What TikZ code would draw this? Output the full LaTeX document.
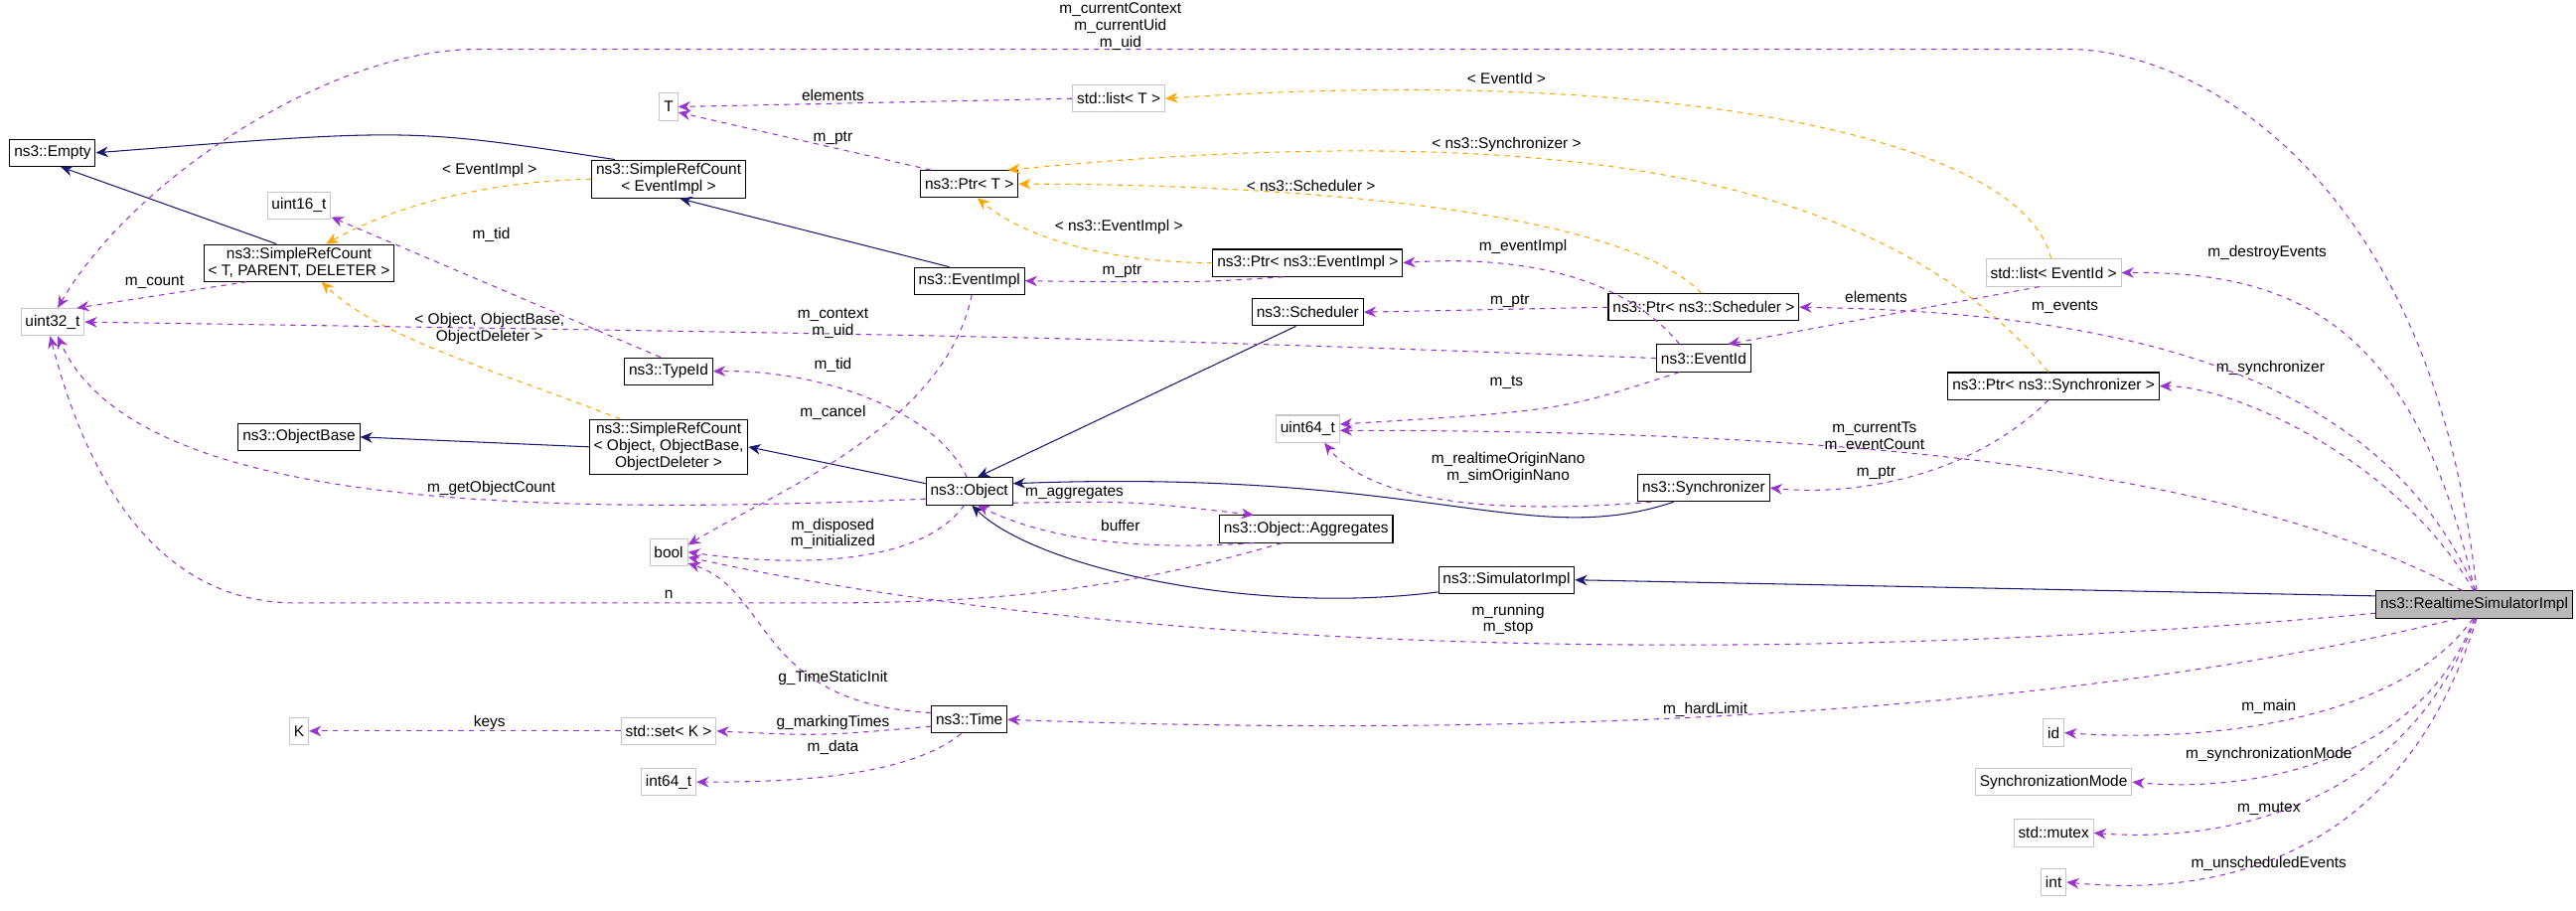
\documentclass[tikz,border=0pt]{standalone}
\usepackage{fontspec}
\setmainfont{Liberation Sans}
\usetikzlibrary{arrows.meta,positioning}

\definecolor{inhblue}{RGB}{25,25,112}
\definecolor{usepurple}{RGB}{154,50,205}
\definecolor{tplorange}{RGB}{255,165,0}

\tikzset{
  cls/.style={draw=black, semithick, rectangle, inner xsep=2.5pt, inner ysep=2pt, minimum height=15.5pt, font=\fontsize{8.8}{9.6}\selectfont, align=center, fill=white},
  ext/.style={cls, draw=gray!45},
  main/.style={cls, fill=gray!55},
  lbl/.style={font=\fontsize{8.8}{9.6}\selectfont, align=center, inner sep=0pt},
  inh/.style={draw=inhblue, semithick, -{Stealth[length=7pt,width=6pt]}},
  use/.style={draw=usepurple, semithick, dashed, -{Stealth[length=7pt,width=6pt]}},
  tpl/.style={draw=tplorange, semithick, dashed, -{Stealth[length=7pt,width=6pt]}},
}

\begin{document}
\begin{tikzpicture}[x=0.0331cm, y=-0.0331cm]
  \useasboundingbox (0,0) rectangle (1568,554);

  % Nodes
  \node[cls] (empty) at (32,93) {ns3::Empty};
  \node[ext] (tt) at (407,65) {T};
  \node[ext] (listT) at (681,60) {std::list\textless{} T \textgreater{}};
  \node[ext] (u16) at (182,125) {uint16\_t};
  \node[cls] (srcE) at (407,109) {ns3::SimpleRefCount\\\textless{} EventImpl \textgreater{}};
  \node[cls] (srcT) at (182,160) {ns3::SimpleRefCount\\\textless{} T, PARENT, DELETER \textgreater{}};
  \node[ext] (u32) at (32,196) {uint32\_t};
  \node[cls] (ptrT) at (590,112) {ns3::Ptr\textless{} T \textgreater{}};
  \node[cls] (evimpl) at (590,171) {ns3::EventImpl};
  \node[cls] (ptrE) at (796,160) {ns3::Ptr\textless{} ns3::EventImpl \textgreater{}};
  \node[cls] (typeid) at (407,226) {ns3::TypeId};
  \node[cls] (objbase) at (182,266) {ns3::ObjectBase};
  \node[cls] (srcO) at (407,272) {ns3::SimpleRefCount\\\textless{} Object, ObjectBase,\\ObjectDeleter \textgreater{}};
  \node[cls] (obj) at (590,299) {ns3::Object};
  \node[ext] (bool) at (407,336) {bool};
  \node[cls] (time) at (590,438) {ns3::Time};
  \node[ext] (kk) at (182,445) {K};
  \node[ext] (setK) at (407,445) {std::set\textless{} K \textgreater{}};
  \node[ext] (i64) at (407,476) {int64\_t};
  \node[cls] (sched) at (796,190) {ns3::Scheduler};
  \node[cls] (ptrS) at (1037,187) {ns3::Ptr\textless{} ns3::Scheduler \textgreater{}};
  \node[cls] (evid) at (1037,218) {ns3::EventId};
  \node[ext] (listE) at (1250,166) {std::list\textless{} EventId \textgreater{}};
  \node[cls] (ptrSync) at (1250,235) {ns3::Ptr\textless{} ns3::Synchronizer \textgreater{}};
  \node[ext] (u64) at (796,261) {uint64\_t};
  \node[cls] (sync) at (1037,297) {ns3::Synchronizer};
  \node[cls] (agg) at (795,322) {ns3::Object::Aggregates};
  \node[cls] (simimpl) at (917,353) {ns3::SimulatorImpl};
  \node[main] (rsi) at (1506,368) {ns3::RealtimeSimulatorImpl};
  \node[ext] (idn) at (1250,446) {id};
  \node[ext] (smode) at (1250,476) {SynchronizationMode};
  \node[ext] (mtx) at (1250,507) {std::mutex};
  \node[ext] (intn) at (1250,537) {int};

  % Inheritance
  \draw[inh] (srcE.160) .. controls (250,78) .. (empty.east);
  \draw[inh] (srcT.140) -- (empty.-60);
  \draw[inh] (evimpl.145) -- (srcE.-60);
  \draw[inh] (srcO.west) -- (objbase.east);
  \draw[inh] (obj.170) -- (srcO.east);
  \draw[inh] (sched.-130) -- (obj.60);
  \draw[inh] (sync.-155) .. controls (930,335) and (870,285) .. (obj.10);
  \draw[inh] (simimpl.-170) .. controls (760,375) and (630,345) .. (obj.-80);
  \draw[inh] (rsi.175) -- (simimpl.east);

  % Templates
  \draw[tpl] (srcE.west) .. controls (310,110) and (250,120) .. (srcT.35);
  \draw[tpl] (srcO.150) .. controls (300,225) and (230,205) .. (srcT.-40);
  \draw[tpl] (ptrE.west) .. controls (690,160) and (630,150) .. (ptrT.-60);
  \draw[tpl] (ptrS.100) .. controls (990,130) and (800,112) .. (ptrT.east);
  \draw[tpl] (ptrSync.110) .. controls (1150,110) and (960,70) .. (ptrT.20);
  \draw[tpl] (listE.100) .. controls (1230,80) and (1000,40) .. (listT.east);

  % Members
  \draw[use] (rsi.80) .. controls (1480,100) and (1330,30) .. (1260,30) -- (290,30) .. controls (200,30) and (80,110) .. (u32.70);
  \draw[use] (listT.west) -- (tt.east);
  \draw[use] (ptrT.160) -- (tt.-30);
  \draw[use] (srcT.-160) -- (u32.30);
  \draw[use] (typeid.120) -- (u16.-20);
  \draw[use] (evid.180) .. controls (650,205) .. (u32.east);
  \draw[use] (obj.100) .. controls (570,250) and (500,225) .. (typeid.east);
  \draw[use] (evimpl.-80) .. controls (575,260) and (470,300) .. (bool.20);
  \draw[use] (obj.190) .. controls (300,315) and (80,305) .. (u32.-70);
  \draw[use] (obj.-110) .. controls (560,345) and (480,345) .. (bool.east);
  \draw[use] (agg.-150) .. controls (680,360) and (600,367) .. (500,367) -- (180,367) .. controls (80,367) and (45,260) .. (u32.-100);
  \draw[use] (obj.-15) .. controls (690,305) .. (agg.165);
  \draw[use] (agg.195) .. controls (700,335) and (640,330) .. (obj.-60);
  \draw[use] (ptrE.-150) .. controls (730,172) .. (evimpl.east);
  \draw[use] (evid.150) .. controls (990,170) and (930,155) .. (ptrE.east);
  \draw[use] (ptrS.west) -- (sched.east);
  \draw[use] (evid.-150) .. controls (950,250) .. (u64.8);
  \draw[use] (listE.-135) -- (evid.30);
  \draw[use] (ptrSync.-110) .. controls (1200,290) and (1130,302) .. (sync.east);
  \draw[use] (sync.-165) .. controls (890,315) and (830,300) .. (u64.-40);
  \draw[use] (rsi.130) .. controls (1350,280) and (1100,262) .. (u64.-3);
  \draw[use] (rsi.88) .. controls (1470,200) and (1400,165) .. (listE.east);
  \draw[use] (rsi.84) .. controls (1450,230) and (1300,190) .. (ptrS.east);
  \draw[use] (rsi.92) .. controls (1460,280) and (1360,235) .. (ptrSync.east);
  \draw[use] (rsi.185) .. controls (1100,405) and (700,400) .. (bool.-15);
  \draw[use] (rsi.-140) .. controls (1300,425) and (1000,452) .. (time.east);
  \draw[use] (time.170) .. controls (460,428) and (470,360) .. (bool.-30);
  \draw[use] (time.-170) .. controls (500,448) .. (setK.east);
  \draw[use] (time.-120) .. controls (550,475) and (470,476) .. (i64.east);
  \draw[use] (setK.west) -- (kk.east);
  \draw[use] (rsi.-95) .. controls (1460,440) and (1340,452) .. (idn.east);
  \draw[use] (rsi.-90) .. controls (1470,470) and (1360,482) .. (smode.east);
  \draw[use] (rsi.-85) .. controls (1460,500) and (1340,512) .. (mtx.east);
  \draw[use] (rsi.-80) .. controls (1460,530) and (1340,545) .. (intn.east);

  % Labels
  \node[lbl] (l1) at (682,16) {m\_currentContext\\m\_currentUid\\m\_uid};
  \node[lbl] (l2) at (507,58) {elements};
  \node[lbl] (l3) at (507,84) {m\_ptr};
  \node[lbl] (l4) at (298,104) {\textless{} EventImpl \textgreater{}};
  \node[lbl] (l5) at (299,143) {m\_tid};
  \node[lbl] (l6) at (94,172) {m\_count};
  \node[lbl] (l7) at (298,200) {\textless{} Object, ObjectBase,\\ObjectDeleter \textgreater{}};
  \node[lbl] (l8) at (507,197) {m\_context\\m\_uid};
  \node[lbl] (l9) at (507,222) {m\_tid};
  \node[lbl] (l10) at (507,251) {m\_cancel};
  \node[lbl] (l11) at (299,297) {m\_getObjectCount};
  \node[lbl] (l12) at (507,325) {m\_disposed\\m\_initialized};
  \node[lbl] (l13) at (407,362) {n};
  \node[lbl] (l14) at (507,413) {g\_TimeStaticInit};
  \node[lbl] (l15) at (507,440) {g\_markingTimes};
  \node[lbl] (l16) at (507,455) {m\_data};
  \node[lbl] (l17) at (298,440) {keys};
  \node[lbl] (l18) at (917,48) {\textless{} EventId \textgreater{}};
  \node[lbl] (l19) at (917,88) {\textless{} ns3::Synchronizer \textgreater{}};
  \node[lbl] (l20) at (798,113) {\textless{} ns3::Scheduler \textgreater{}};
  \node[lbl] (l21) at (681,138) {\textless{} ns3::EventImpl \textgreater{}};
  \node[lbl] (l22) at (927,150) {m\_eventImpl};
  \node[lbl] (l23) at (683,165) {m\_ptr};
  \node[lbl] (l24) at (919,183) {m\_ptr};
  \node[lbl] (l25) at (1142,181) {elements};
  \node[lbl] (l26) at (1257,187) {m\_events};
  \node[lbl] (l27) at (1380,154) {m\_destroyEvents};
  \node[lbl] (l28) at (1382,224) {m\_synchronizer};
  \node[lbl] (l29) at (917,233) {m\_ts};
  \node[lbl] (l30) at (1141,266) {m\_currentTs\\m\_eventCount};
  \node[lbl] (l31) at (918,285) {m\_realtimeOriginNano\\m\_simOriginNano};
  \node[lbl] (l32) at (1142,288) {m\_ptr};
  \node[lbl] (l33) at (654,300) {m\_aggregates};
  \node[lbl] (l34) at (682,320) {buffer};
  \node[lbl] (l35) at (918,377) {m\_running\\m\_stop};
  \node[lbl] (l36) at (1038,432) {m\_hardLimit};
  \node[lbl] (l37) at (1381,430) {m\_main};
  \node[lbl] (l38) at (1381,459) {m\_synchronizationMode};
  \node[lbl] (l39) at (1381,492) {m\_mutex};
  \node[lbl] (l40) at (1381,526) {m\_unscheduledEvents};
\end{tikzpicture}
\end{document}
